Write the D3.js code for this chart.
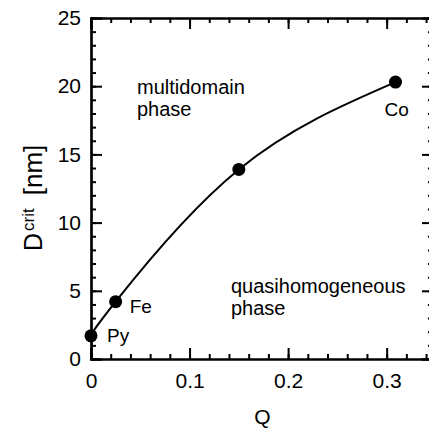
<!DOCTYPE html>
<html>
<head>
<meta charset="utf-8">
<script src="https://cdn.jsdelivr.net/npm/d3@7"></script>
<style>
  body { margin: 0; background: #fff; }
  svg text { font-family: "Liberation Sans", Arial, sans-serif; fill: #000; }
</style>
</head>
<body>
<svg id="chart" width="429" height="428"></svg>
<script>
// data
const materials = ["Py", "Fe", "", "Co"];
const qValues = [0, 0.025, 0.15, 0.309];
const dCrit = [1.7, 4.2, 13.9, 20.3];
const xTicks = [0, 0.1, 0.2, 0.3];
const yTicks = [0, 5, 10, 15, 20, 25];
const qMax = 0.347;

const svg = d3.select("#chart");

// scales
const x = d3.scaleLinear().domain([0, qMax]).range([91, 91 + qMax * 985.5]);
const y = d3.scaleLinear().domain([0, 25]).range([359, 18]);

const minorX = d3.range(0, qMax, 0.02);
const minorY = d3.range(0, 25.01, 1);

// axes with inward ticks
function drawAxis(axisGen, tx, ty) {
  return svg.append("g").attr("transform", `translate(${tx},${ty})`).call(axisGen);
}

drawAxis(d3.axisBottom(x).tickValues(xTicks).tickSize(-11).tickPadding(14)
  .tickFormat(d => d === 0 ? "0" : d3.format(".1f")(d)), 0, y(0));
drawAxis(d3.axisBottom(x).tickValues(minorX).tickSize(-5).tickFormat(""), 0, y(0));
drawAxis(d3.axisTop(x).tickValues(xTicks).tickSize(-11).tickFormat(""), 0, y(25));
drawAxis(d3.axisTop(x).tickValues(minorX).tickSize(-5).tickFormat(""), 0, y(25));
drawAxis(d3.axisLeft(y).tickValues(yTicks).tickSize(-11).tickPadding(10), x(0), 0);
drawAxis(d3.axisLeft(y).tickValues(minorY).tickSize(-5).tickFormat(""), x(0), 0);
drawAxis(d3.axisRight(y).tickValues(yTicks).tickSize(-11).tickFormat(""), x(qMax), 0);
drawAxis(d3.axisRight(y).tickValues(minorY).tickSize(-5).tickFormat(""), x(qMax), 0);

svg.selectAll(".domain").attr("stroke", "#000").attr("stroke-width", 2.2);
svg.selectAll(".tick line").attr("stroke", "#000").attr("stroke-width", 2);
svg.selectAll(".tick text").style("font-size", "21px").attr("fill", "#000");

// curve through points
const pts = qValues.map((q, i) => [q, dCrit[i]]);
const line = d3.line().x(d => x(d[0])).y(d => y(d[1])).curve(d3.curveNatural);
svg.append("path").datum(pts).attr("d", line)
  .attr("fill", "none").attr("stroke", "#000").attr("stroke-width", 2);

svg.selectAll("circle.pt").data(pts).enter().append("circle")
  .attr("class", "pt")
  .attr("cx", d => x(d[0])).attr("cy", d => y(d[1])).attr("r", 6.5).attr("fill", "#000");

// point labels
const labelOffsets = [[16, 6], [14, 11], [0, 0], [-11, 34]];
svg.selectAll("text.lbl").data(materials).enter().append("text")
  .attr("class", "lbl")
  .attr("x", (d, i) => x(qValues[i]) + labelOffsets[i][0])
  .attr("y", (d, i) => y(dCrit[i]) + labelOffsets[i][1])
  .style("font-size", "19px")
  .text(d => d);

// region annotations
function note(lines, tx, ty) {
  const t = svg.append("text").attr("x", tx).attr("y", ty).style("font-size", "20px");
  lines.forEach((l, i) => t.append("tspan").attr("x", tx).attr("dy", i ? 22 : 0).text(l));
}
note(["multidomain", "phase"], 137, 94);
note(["quasihomogeneous", "phase"], 231, 293);

// axis titles
svg.append("text").attr("x", x(0.174)).attr("y", 424)
  .attr("text-anchor", "middle").style("font-size", "21px").text("Q");

const yl = svg.append("text")
  .attr("transform", "translate(42,251) rotate(-90)")
  .style("font-size", "25px");
yl.append("tspan").text("D");
yl.append("tspan").attr("dx", 2).attr("dy", -8).style("font-size", "17px").text("crit");
yl.append("tspan").attr("dx", 13).attr("dy", 8).style("font-size", "26px").text("[nm]");
</script>
</body>
</html>
